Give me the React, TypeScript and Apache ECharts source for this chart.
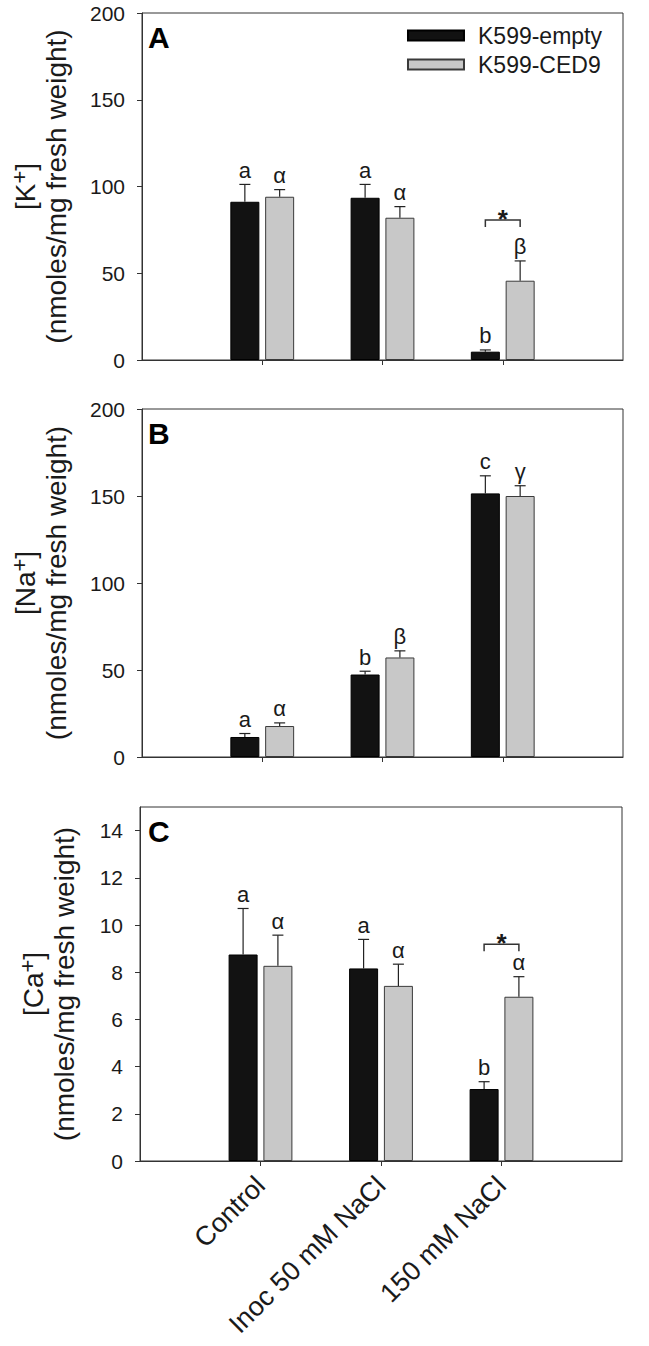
import React, { useEffect, useRef } from "react";
import * as echarts from "echarts";

// ---------- data ----------
const categories = ["Control", "Inoc 50 mM NaCl", "150 mM NaCl"];
const seriesNames = ["K599-empty", "K599-CED9"];

const kEmpty = [91.2, 93.5, 4.8];
const kEmptyErr = [10.0, 7.7, 1.0];
const kCed9 = [94.1, 82.0, 45.7];
const kCed9Err = [4.1, 6.4, 11.4];
const kEmptyLetters = ["a", "a", "b"];
const kCed9Letters = ["α", "α", "β"];
const kStarCategory = [3];
const kStarLevel = [80.7];

const naEmpty = [11.5, 47.4, 151.5];
const naEmptyErr = [2.0, 1.9, 10.1];
const naCed9 = [17.8, 57.2, 150.0];
const naCed9Err = [1.8, 3.8, 5.9];
const naEmptyLetters = ["a", "b", "c"];
const naCed9Letters = ["α", "β", "γ"];

const caEmpty = [8.75, 8.16, 3.05];
const caEmptyErr = [1.95, 1.23, 0.31];
const caCed9 = [8.27, 7.42, 6.96];
const caCed9Err = [1.3, 0.92, 0.85];
const caEmptyLetters = ["a", "a", "b"];
const caCed9Letters = ["α", "α", "α"];
const caStarCategory = [3];
const caStarLevel = [9.18];

const kTicks = [0, 50, 100, 150, 200];
const naTicks = [0, 50, 100, 150, 200];
const caTicks = [0, 2, 4, 6, 8, 10, 12, 14];

const panelLetters = ["A", "B", "C"];
const yTitles = [
  ["[K", "+", "]"],
  ["[Na", "+", "]"],
  ["[Ca", "+", "]"],
];
const yUnit = "(nmoles/mg fresh weight)";

// ---------- styles ----------
const FONT = '"Liberation Sans", Arial, sans-serif';
const AXIS_COLOR = "#333";
const TEXT_COLOR = "#1a1a1a";
const BAR_W = 29;
const BAR_GAP = 0.2;
const OFFSET = (BAR_W + BAR_W * BAR_GAP) / 2;
const CAP = 5.5;

const grids = [
  { left: 140, top: 13, width: 483, height: 347 },
  { left: 140, top: 409, width: 483, height: 348 },
  { left: 140, top: 807, width: 482, height: 354 },
];

const paddedCats = ["", ...categories, " "];
const pad = (arr: number[]) => ["-", ...arr, "-"];

function errorSeries(g: number, vals: number[], errs: number[], letters: string[], side: number) {
  return {
    type: "custom",
    xAxisIndex: g,
    yAxisIndex: g,
    z: 5,
    clip: false,
    silent: true,
    data: vals.map((v, i) => [i + 1, v, errs[i]]),
    renderItem: (params: any, api: any) => {
      const idx = api.value(0);
      const mean = api.value(1);
      const e = api.value(2);
      const base = api.coord([idx, mean]);
      const top = api.coord([idx, mean + e]);
      const x = base[0] + side * OFFSET;
      const ls = { stroke: "#222", lineWidth: 1.2 };
      return {
        type: "group",
        children: [
          { type: "line", shape: { x1: x, y1: base[1], x2: x, y2: top[1] }, style: ls },
          { type: "line", shape: { x1: x - CAP, y1: top[1], x2: x + CAP, y2: top[1] }, style: ls },
          {
            type: "text",
            x: x,
            y: top[1] - 3,
            style: {
              text: letters[params.dataIndex],
              fill: TEXT_COLOR,
              font: `22px ${FONT}`,
              align: "center",
              verticalAlign: "bottom",
            },
          },
        ],
      };
    },
  };
}

function starSeries(g: number, cats: number[], levels: number[]) {
  return {
    type: "custom",
    xAxisIndex: g,
    yAxisIndex: g,
    z: 5,
    clip: false,
    silent: true,
    data: cats.map((c, i) => [c, levels[i]]),
    renderItem: (params: any, api: any) => {
      const p = api.coord([api.value(0), api.value(1)]);
      const x0 = p[0] - OFFSET;
      const x1 = p[0] + OFFSET;
      return {
        type: "group",
        children: [
          {
            type: "polyline",
            shape: { points: [[x0, p[1] + 7], [x0, p[1]], [x1, p[1]], [x1, p[1] + 7]] },
            style: { stroke: "#333", lineWidth: 1.5, fill: "none" },
          },
          {
            type: "text",
            x: p[0],
            y: p[1] - 1,
            style: {
              text: "*",
              fill: TEXT_COLOR,
              font: `bold 26px ${FONT}`,
              align: "center",
              verticalAlign: "middle",
            },
          },
        ],
      };
    },
  };
}

function yAxis(g: number, max: number, ticks: number[], gap: number) {
  const t = yTitles[g];
  return {
    gridIndex: g,
    type: "value",
    min: 0,
    max: max,
    interval: ticks[1] - ticks[0],
    axisLine: { show: true, lineStyle: { color: AXIS_COLOR, width: 1 } },
    axisTick: { show: true, inside: false, length: 5, lineStyle: { color: AXIS_COLOR }, customValues: ticks },
    axisLabel: { fontSize: 21, fontFamily: FONT, color: TEXT_COLOR, margin: 17, customValues: ticks },
    splitLine: { show: false },
    name: `{l|${t[0]}}{s|${t[1]}}{l|${t[2]}}\n{t|${yUnit}}`,
    nameLocation: "middle",
    nameRotate: 90,
    nameGap: gap,
    nameTextStyle: {
      rich: {
        l: { fontSize: 28, fontFamily: FONT, color: TEXT_COLOR },
        s: { fontSize: 22, fontFamily: FONT, color: TEXT_COLOR, padding: [0, 0, 12, 0] },
        t: { fontSize: 28, fontFamily: FONT, color: TEXT_COLOR },
      },
    },
  };
}

function xAxis(g: number) {
  return {
    gridIndex: g,
    type: "category",
    data: paddedCats,
    boundaryGap: false,
    axisLine: { show: true, onZero: false, lineStyle: { color: AXIS_COLOR, width: 1 } },
    axisTick: {
      show: true,
      length: 5,
      interval: (i: number) => i > 0 && i < paddedCats.length - 1,
      lineStyle: { color: AXIS_COLOR },
    },
    axisLabel: {
      show: g === 2,
      interval: 0,
      rotate: 45,
      fontSize: 27,
      fontFamily: FONT,
      color: TEXT_COLOR,
      margin: 20,
    },
    splitLine: { show: false },
  };
}

function barSeries(g: number, empty: number[], ced: number[]) {
  return [
    {
      type: "bar",
      name: seriesNames[0],
      xAxisIndex: g,
      yAxisIndex: g,
      data: pad(empty),
      barWidth: BAR_W,
      barGap: "20%",
      itemStyle: { color: "#121212", borderColor: "#000", borderWidth: 1 },
    },
    {
      type: "bar",
      name: seriesNames[1],
      xAxisIndex: g,
      yAxisIndex: g,
      data: pad(ced),
      barWidth: BAR_W,
      barGap: "20%",
      itemStyle: { color: "#c8c8c8", borderColor: "#3a3a3a", borderWidth: 1 },
    },
  ];
}

export default function App() {
  const ref = useRef<HTMLDivElement>(null);
  useEffect(() => {
    if (!ref.current) return;
    const chart = echarts.init(ref.current, undefined, { renderer: "svg" });
    const option = {
      animation: false,
      backgroundColor: "#fff",
      textStyle: { fontFamily: FONT },
      grid: grids.map((gr) => ({ ...gr, show: true, borderColor: AXIS_COLOR, borderWidth: 1, backgroundColor: "transparent" })),
      xAxis: [xAxis(0), xAxis(1), xAxis(2)],
      yAxis: [yAxis(0, 200, kTicks, 72), yAxis(1, 200, naTicks, 72), yAxis(2, 15, caTicks, 62)],
      legend: {
        data: seriesNames,
        orient: "vertical",
        right: 42,
        top: 19,
        itemWidth: 56,
        itemHeight: 10,
        itemGap: 6,
        icon: "rect",
        textStyle: { fontSize: 23, fontFamily: FONT, color: TEXT_COLOR, padding: [0, 0, 0, 9] },
      },
      graphic: panelLetters.map((l, i) => ({
        type: "text",
        left: grids[i].left + 8,
        top: grids[i].top + 9,
        style: { text: l, font: `bold 30px ${FONT}`, fill: "#000" },
      })),
      series: [
        ...barSeries(0, kEmpty, kCed9),
        errorSeries(0, kEmpty, kEmptyErr, kEmptyLetters, -1),
        errorSeries(0, kCed9, kCed9Err, kCed9Letters, 1),
        starSeries(0, kStarCategory, kStarLevel),
        ...barSeries(1, naEmpty, naCed9),
        errorSeries(1, naEmpty, naEmptyErr, naEmptyLetters, -1),
        errorSeries(1, naCed9, naCed9Err, naCed9Letters, 1),
        ...barSeries(2, caEmpty, caCed9),
        errorSeries(2, caEmpty, caEmptyErr, caEmptyLetters, -1),
        errorSeries(2, caCed9, caCed9Err, caCed9Letters, 1),
        starSeries(2, caStarCategory, caStarLevel),
      ],
    };
    chart.setOption(option as any);
    return () => chart.dispose();
  }, []);
  return (
    <div
      ref={ref}
      style={{ position: "absolute", left: 0, top: 0, width: 649, height: 1346, background: "#fff" }}
    />
  );
}
